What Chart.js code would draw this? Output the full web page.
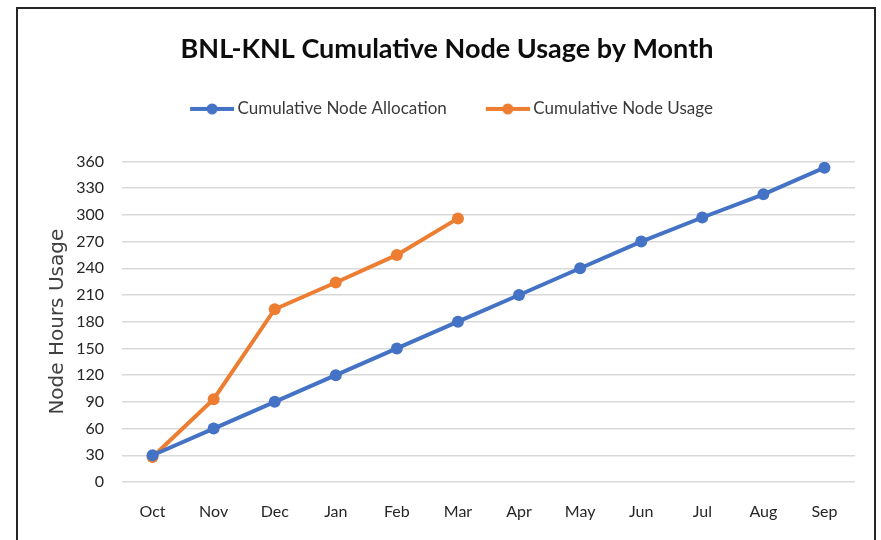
<!DOCTYPE html>
<html>
<head>
<meta charset="utf-8">
<script src="https://cdn.jsdelivr.net/npm/chart.js@4/dist/chart.umd.min.js"></script>
<style>
    html, body { margin: 0; padding: 0; background: #fff; }
    #wrap { position: relative; width: 881px; height: 540px; overflow: hidden; }
    #frame { position: absolute; left: 16px; top: 7px; width: 856px; height: 560px; border: 2px solid #262626; pointer-events: none; }
    canvas { position: absolute; left: 0; top: 0; }
</style>
</head>
<body>
<div id="wrap">
    <canvas id="chart" width="881" height="540"></canvas>
    <div id="frame"></div>
</div>
<script>
// Werte
const months = ["Oct", "Nov", "Dec", "Jan", "Feb", "Mar", "Apr", "May", "Jun", "Jul", "Aug", "Sep"];
const allocation = [30, 60, 90, 120, 150, 180, 210, 240, 270, 297, 323, 353];
const usage = [28, 93, 194, 224, 255, 296];
const yTicks = [0, 30, 60, 90, 120, 150, 180, 210, 240, 270, 300, 330, 360];

const BLUE = "#4472C4";
const ORANGE = "#ED7D31";

// Legenden-Symbol: Linie mit Punkt (wie Excel)
const legendIcon = (color) => {
    const c = document.createElement("canvas");
    c.width = 58;
    c.height = 14;
    const ctx = c.getContext("2d");
    ctx.strokeStyle = color;
    ctx.lineWidth = 4;
    ctx.beginPath();
    ctx.moveTo(14, 7);
    ctx.lineTo(58, 7);
    ctx.stroke();
    ctx.fillStyle = color;
    ctx.beginPath();
    ctx.arc(36, 7, 5.5, 0, Math.PI * 2);
    ctx.fill();
    return c;
};
const icons = [legendIcon(BLUE), legendIcon(ORANGE)];

new Chart(document.getElementById("chart"), {
    type: "line",
    data: {
        labels: months,
        datasets: [
            {
                label: "Cumulative Node Allocation",
                data: allocation,
                borderColor: BLUE,
                backgroundColor: BLUE,
                borderWidth: 4,
                pointRadius: 6,
                pointBorderWidth: 0,
                tension: 0,
            },
            {
                label: "Cumulative Node Usage",
                data: usage,
                borderColor: ORANGE,
                backgroundColor: ORANGE,
                borderWidth: 4,
                pointRadius: 6,
                pointBorderWidth: 0,
                tension: 0,
            },
        ],
    },
    options: {
        responsive: false,
        animation: false,
        layout: { padding: { left: 20, right: 7, top: 0, bottom: 19 } },
        plugins: {
            title: {
                display: true,
                text: "BNL-KNL Cumulative Node Usage by Month",
                color: "#0d0d0d",
                font: { family: "Lato", size: 27, weight: "bold" },
                padding: { top: 33, bottom: 5 },
            },
            // nur Abstandshalter unter der Legende
            subtitle: {
                display: true,
                text: " ",
                weight: 500,
                font: { size: 1, lineHeight: 1 },
                padding: { top: 33, bottom: 0 },
            },
            legend: {
                labels: {
                    usePointStyle: true,
                    pointStyleWidth: 48,
                    padding: 30,
                    color: "#3a3a3a",
                    font: { family: "Lato", size: 17 },
                    generateLabels: (chart) => {
                        const items = Chart.defaults.plugins.legend.labels.generateLabels(chart);
                        items.forEach((item, i) => { item.pointStyle = icons[i]; });
                        return items;
                    },
                },
            },
            tooltip: { enabled: false },
        },
        scales: {
            x: {
                offset: true,
                grid: { display: false, drawTicks: false },
                border: { display: false },
                ticks: { color: "#262626", padding: 20, font: { family: "Lato", size: 16 } },
                afterFit: (scale) => {
                    scale.height = 39;
                    scale.paddingRight = 26;
                },
            },
            y: {
                min: 0,
                max: 360,
                afterBuildTicks: (scale) => { scale.ticks = yTicks.map(v => ({ value: v })); },
                grid: { color: "#d9d9d9", lineWidth: 1.5, drawTicks: false },
                border: { display: false },
                ticks: { color: "#262626", padding: 18, font: { family: "Lato", size: 16 } },
                title: {
                    display: true,
                    text: "Node Hours Usage",
                    color: "#404040",
                    font: { family: "DejaVu Sans", size: 20 },
                    padding: { top: 26, bottom: 0 },
                },
                afterFit: (scale) => { scale.width = 102; },
            },
        },
    },
});
</script>
</body>
</html>
